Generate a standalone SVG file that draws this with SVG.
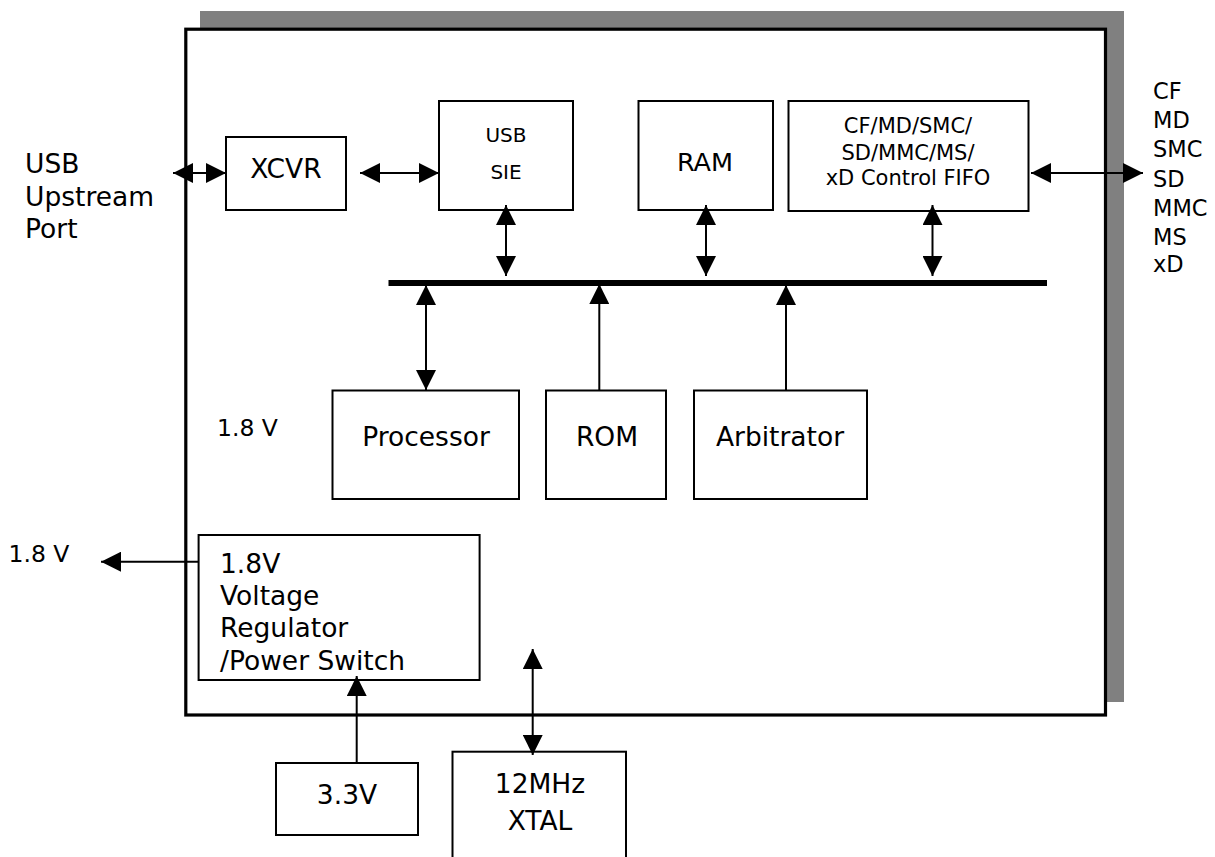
<svg xmlns="http://www.w3.org/2000/svg" width="1215" height="857" viewBox="0 0 1215 857">
  <style>
    text { font-family: "DejaVu Sans", "Liberation Sans", sans-serif; fill: #000; }
    .box { fill: #fff; stroke: #000; stroke-width: 2; }
    .c { text-anchor: middle; }
    .lbl { font-size: 26.5px; }
    .sm { font-size: 20px; }
    .md { font-size: 22.5px; }
    .con { stroke: #000; stroke-width: 2; fill: none; }
  </style>
  <defs>
    <marker id="ah" markerUnits="userSpaceOnUse" markerWidth="20" markerHeight="20" viewBox="0 0 20 20" refX="20" refY="10" orient="auto-start-reverse">
      <path d="M0,0 L20,10 L0,20 Z" fill="#000"/>
    </marker>
  </defs>

  <g id="chip">
    <rect x="200" y="11" width="924" height="691" fill="#808080"/>
    <rect x="185.8" y="29.2" width="919.7" height="685.8" fill="#fff" stroke="#000" stroke-width="3.2"/>
  </g>

  <g id="bus">
    <rect x="388.5" y="280" width="658.5" height="6" fill="#000"/>
  </g>

  <g id="usb-port">
    <text class="lbl" x="25" y="173">USB</text>
    <text class="lbl" x="25" y="206">Upstream</text>
    <text class="lbl" x="25" y="238">Port</text>
  </g>

  <g id="xcvr">
    <rect class="box" x="226" y="137" width="120" height="73"/>
    <text class="lbl c" x="286" y="178">XCVR</text>
  </g>

  <g id="usb-sie">
    <rect class="box" x="439" y="101" width="134" height="109"/>
    <text class="sm c" x="506" y="142">USB</text>
    <text class="sm c" x="506" y="179">SIE</text>
  </g>

  <g id="ram">
    <rect class="box" x="638.5" y="101" width="134.5" height="109"/>
    <text class="c" font-size="25.5" x="705" y="171">RAM</text>
  </g>

  <g id="fifo">
    <rect class="box" x="788.5" y="101" width="240" height="110"/>
    <text class="c" font-size="21" x="908" y="133">CF/MD/SMC/</text>
    <text class="c" font-size="21" x="908" y="160">SD/MMC/MS/</text>
    <text class="c" font-size="21" x="908" y="185">xD Control FIFO</text>
  </g>

  <g id="card-list">
    <text class="md" x="1153" y="99">CF</text>
    <text class="md" x="1153" y="128">MD</text>
    <text class="md" x="1153" y="157">SMC</text>
    <text class="md" x="1153" y="187">SD</text>
    <text class="md" x="1153" y="216">MMC</text>
    <text class="md" x="1153" y="245">MS</text>
    <text class="md" x="1153" y="272">xD</text>
  </g>

  <g id="processor">
    <rect class="box" x="332.5" y="390.5" width="186.5" height="108.5"/>
    <text class="lbl c" x="426" y="446">Processor</text>
  </g>

  <g id="rom">
    <rect class="box" x="546" y="390.5" width="120" height="108.5"/>
    <text class="lbl c" x="607" y="446">ROM</text>
  </g>

  <g id="arbitrator">
    <rect class="box" x="694" y="390.5" width="173" height="108.5"/>
    <text class="lbl c" x="780" y="446">Arbitrator</text>
  </g>

  <g id="core-voltage">
    <text font-size="23.5" x="217" y="436">1.8 V</text>
  </g>

  <g id="out-voltage">
    <text font-size="23.5" x="8.5" y="562">1.8 V</text>
  </g>

  <g id="regulator">
    <rect class="box" x="198.6" y="535" width="281" height="145"/>
    <text class="lbl" x="220" y="573">1.8V</text>
    <text class="lbl" x="220" y="605">Voltage</text>
    <text class="lbl" x="220" y="637">Regulator</text>
    <text class="lbl" x="220" y="670">/Power Switch</text>
  </g>

  <g id="v33">
    <rect class="box" x="276" y="763" width="142" height="72"/>
    <text class="lbl c" x="347" y="804">3.3V</text>
  </g>

  <g id="xtal">
    <rect class="box" x="452.5" y="751.7" width="173.5" height="120"/>
    <text class="lbl c" x="540" y="793">12MHz</text>
    <text class="lbl c" x="540" y="830">XTAL</text>
  </g>

  <g id="connectors">
    <line class="con" x1="173" y1="173" x2="226" y2="173" marker-start="url(#ah)" marker-end="url(#ah)"/>
    <line class="con" x1="360" y1="173" x2="439" y2="173" marker-start="url(#ah)" marker-end="url(#ah)"/>
    <line class="con" x1="506" y1="205" x2="506" y2="276" marker-start="url(#ah)" marker-end="url(#ah)"/>
    <line class="con" x1="706" y1="205" x2="706" y2="276" marker-start="url(#ah)" marker-end="url(#ah)"/>
    <line class="con" x1="932.5" y1="205" x2="932.5" y2="276" marker-start="url(#ah)" marker-end="url(#ah)"/>
    <line class="con" x1="1031" y1="173" x2="1143" y2="173" marker-start="url(#ah)" marker-end="url(#ah)"/>
    <line class="con" x1="426" y1="285" x2="426" y2="390" marker-start="url(#ah)" marker-end="url(#ah)"/>
    <line class="con" x1="599.3" y1="390.5" x2="599.3" y2="284" marker-end="url(#ah)"/>
    <line class="con" x1="786" y1="390.5" x2="786" y2="285" marker-end="url(#ah)"/>
    <line class="con" x1="199" y1="561.7" x2="101" y2="561.7" marker-end="url(#ah)"/>
    <line class="con" x1="356.7" y1="763" x2="356.7" y2="676" marker-end="url(#ah)"/>
    <line class="con" x1="532.7" y1="649" x2="532.7" y2="755" marker-start="url(#ah)" marker-end="url(#ah)"/>
  </g>
</svg>
